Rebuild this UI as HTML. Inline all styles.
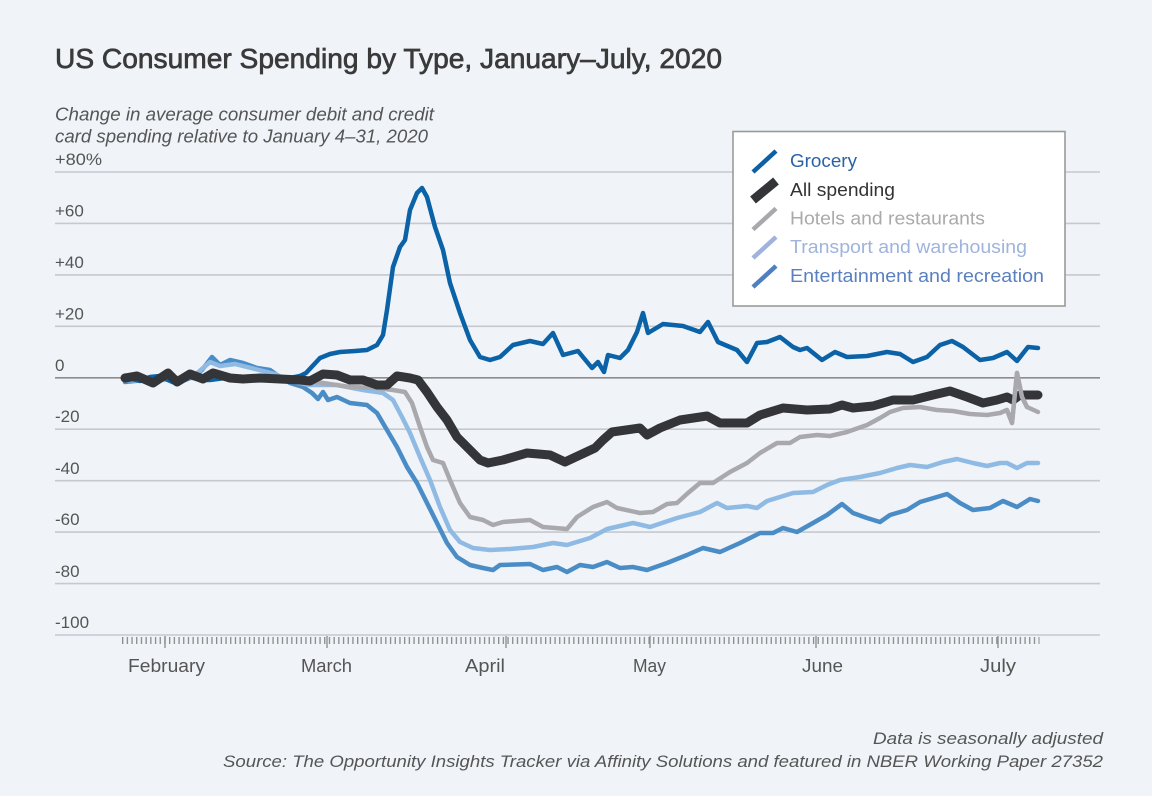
<!DOCTYPE html>
<html><head><meta charset="utf-8"><style>
html,body{margin:0;padding:0;background:#f0f4f8;}
svg{display:block;font-family:"Liberation Sans",sans-serif;}
</style></head><body>
<svg width="1152" height="796" viewBox="0 0 1152 796" xmlns="http://www.w3.org/2000/svg">
<defs>
<pattern id="tk" x="122" y="0" width="4.7" height="10" patternUnits="userSpaceOnUse"><rect x="0" y="0" width="1.3" height="10" fill="#8a8a8a"/></pattern>
</defs>
<rect width="1152" height="796" fill="#f0f4f8"/>
<text x="55" y="68" font-size="28" fill="#3a3a3a" stroke="#3a3a3a" stroke-width="0.7" textLength="667" lengthAdjust="spacingAndGlyphs">US Consumer Spending by Type, January–July, 2020</text>
<g font-style="italic" font-size="18" fill="#555">
<text x="55" y="120.5" textLength="379" lengthAdjust="spacingAndGlyphs">Change in average consumer debit and credit</text>
<text x="55" y="142.5" textLength="373" lengthAdjust="spacingAndGlyphs">card spending relative to January 4–31, 2020</text>
</g>
<g stroke="#c6cacf" stroke-width="1.6">
<line x1="55" y1="172" x2="1100" y2="172"/>
<line x1="55" y1="223.4" x2="1100" y2="223.4"/>
<line x1="55" y1="274.9" x2="1100" y2="274.9"/>
<line x1="55" y1="326.3" x2="1100" y2="326.3"/>
<line x1="55" y1="429.2" x2="1100" y2="429.2"/>
<line x1="55" y1="480.7" x2="1100" y2="480.7"/>
<line x1="55" y1="532.1" x2="1100" y2="532.1"/>
<line x1="55" y1="583.6" x2="1100" y2="583.6"/>
<line x1="55" y1="635" x2="1100" y2="635"/>
</g>
<line x1="55" y1="377.8" x2="1100" y2="377.8" stroke="#8c8c8c" stroke-width="1.6"/>
<g font-size="17" fill="#555">
<text x="55" y="165" textLength="47" lengthAdjust="spacingAndGlyphs">+80%</text>
<text x="55" y="216.5">+60</text>
<text x="55" y="268">+40</text>
<text x="55" y="319.5">+20</text>
<text x="55" y="371">0</text>
<text x="55" y="422">-20</text>
<text x="55" y="474">-40</text>
<text x="55" y="525">-60</text>
<text x="55" y="577">-80</text>
<text x="55" y="628">-100</text>
</g>
<rect x="121.5" y="637" width="918" height="7" fill="url(#tk)"/>
<g stroke="#8a8a8a" stroke-width="1.3">
<line x1="165" y1="636" x2="165" y2="648"/>
<line x1="327" y1="636" x2="327" y2="648"/>
<line x1="506" y1="636" x2="506" y2="648"/>
<line x1="650" y1="636" x2="650" y2="648"/>
<line x1="816" y1="636" x2="816" y2="648"/>
<line x1="998" y1="636" x2="998" y2="648"/>
</g>
<g font-size="18" fill="#555">
<text x="128" y="672" textLength="77" lengthAdjust="spacingAndGlyphs">February</text>
<text x="301" y="672" textLength="51" lengthAdjust="spacingAndGlyphs">March</text>
<text x="465" y="672" textLength="40" lengthAdjust="spacingAndGlyphs">April</text>
<text x="633" y="672" textLength="33" lengthAdjust="spacingAndGlyphs">May</text>
<text x="802" y="672" textLength="41" lengthAdjust="spacingAndGlyphs">June</text>
<text x="980" y="672" textLength="36" lengthAdjust="spacingAndGlyphs">July</text>
</g>
<g fill="none" stroke-linejoin="round" stroke-linecap="round">
<polyline stroke="#4a8cc6" stroke-width="4.5" points="125,382 145,380 170,377 177,383 193,377 202,370 212,357 220,365 230,360 243,363 257,368 270,370 277,375 290,383 303,387 312,393 318,399 323,392 328,400 337,397 350,403 367,405 377,413 387,430 397,447 407,467 417,483 427,503 437,523 447,543 457,557 470,565 483,568 493,570 500,565 530,564 543,570 557,567 567,572 580,565 593,567 607,562 620,568 633,567 647,570 667,563 687,555 703,548 720,552 740,543 760,533 773,533 783,528 797,532 813,523 827,515 842,504 853,513 867,518 880,522 890,515 907,510 920,502 937,497 947,494 960,503 973,510 990,508 1003,501 1017,507 1030,499 1038,501"/>
<polyline stroke="#8fbae3" stroke-width="4.5" points="125,380 150,381 175,379 195,375 210,362 220,366 235,364 255,369 275,374 290,381 310,385 337,385 363,390 383,393 393,400 402,417 410,433 420,457 430,480 440,507 450,530 460,542 473,548 490,550 510,549 533,547 553,543 567,545 590,538 607,529 633,523 650,527 677,518 700,512 717,503 727,508 747,506 757,508 767,501 780,497 793,493 813,492 827,485 840,480 860,477 880,473 897,468 910,465 927,467 943,462 957,459 973,463 987,466 1000,463 1007,463 1017,468 1027,463 1038,463"/>
<polyline stroke="#a9a9ad" stroke-width="4.5" points="125,379 150,381 175,378 200,378 230,378 260,379 290,380 310,381 323,383 350,387 377,388 393,390 405,392 412,403 420,427 427,447 433,460 443,463 450,480 460,503 470,517 483,520 493,525 503,522 530,520 543,527 567,529 577,517 593,507 607,502 617,508 640,513 653,512 667,504 677,503 688,493 700,483 713,483 730,472 747,463 760,453 777,443 790,443 800,437 817,435 830,436 847,432 867,425 880,418 890,412 903,408 920,407 937,410 953,411 970,414 987,415 1000,413 1007,410 1012,423 1017,373 1022,397 1027,407 1038,412"/>
<polyline stroke="#0b62a6" stroke-width="4.5" points="125,377 132,379 140,381 150,377 160,376 168,380 175,383 183,378 190,377 200,380 210,380 225,378 240,377 255,379 270,380 285,379 300,376 306,373 320,358 330,354 340,352 355,351 367,350 377,345 383,335 387,310 393,267 400,247 405,240 410,210 417,193 422,188 427,197 435,227 443,250 450,283 460,313 470,340 480,357 490,360 500,357 513,345 530,341 543,344 553,333 563,355 578,351 592,368 598,362 604,372 608,355 620,358 628,350 637,332 643,313 648,333 663,324 683,326 700,332 708,322 718,342 737,350 747,362 757,343 767,342 780,337 793,347 800,350 807,348 822,360 835,352 847,357 867,356 887,352 900,354 913,362 927,357 940,345 952,341 963,347 980,360 993,358 1007,352 1017,361 1028,347 1038,348"/>
<polyline stroke="#343538" stroke-width="9" points="125,378 137,376 153,383 168,373 177,382 190,374 203,379 213,373 230,378 243,379 260,378 280,379 300,380 310,381 323,374 337,375 350,380 363,380 377,385 387,385 397,376 410,378 418,380 427,392 437,407 447,420 457,437 470,450 480,460 488,463 503,460 527,453 550,455 565,462 580,455 595,448 603,440 612,432 640,428 647,435 660,428 680,420 707,416 720,423 747,423 760,415 783,408 807,410 830,409 842,405 853,408 873,406 893,400 913,400 933,395 950,391 967,397 983,403 997,400 1007,397 1013,400 1020,395 1038,395"/>
<polyline stroke="#a9a9ad" stroke-width="4.5" points="1007,410 1012,423 1017,373 1022,397 1027,407"/>
</g>
<rect x="733" y="131.5" width="332" height="174.5" fill="#ffffff" stroke="#9a9a9a" stroke-width="1.6"/>
<g stroke-linecap="butt">
<line x1="753" y1="172" x2="776" y2="151" stroke="#0d60a4" stroke-width="4.5"/>
<line x1="753" y1="200" x2="776" y2="181" stroke="#343538" stroke-width="9"/>
<line x1="753" y1="229.5" x2="776" y2="208.5" stroke="#a9a9ad" stroke-width="4.5"/>
<line x1="753" y1="258" x2="776" y2="237" stroke="#9fb3dc" stroke-width="4.5"/>
<line x1="753" y1="287" x2="776" y2="266" stroke="#4f7fc0" stroke-width="4.5"/>
</g>
<g font-size="18.5">
<text x="790" y="167" fill="#2a63a3" textLength="67" lengthAdjust="spacingAndGlyphs">Grocery</text>
<text x="790" y="196" fill="#333" textLength="105" lengthAdjust="spacingAndGlyphs">All spending</text>
<text x="790" y="224.5" fill="#aaaaaa" textLength="195" lengthAdjust="spacingAndGlyphs">Hotels and restaurants</text>
<text x="790" y="253" fill="#9fb3dc" textLength="237" lengthAdjust="spacingAndGlyphs">Transport and warehousing</text>
<text x="790" y="282" fill="#5a80bf" textLength="254" lengthAdjust="spacingAndGlyphs">Entertainment and recreation</text>
</g>
<g font-style="italic" font-size="17" fill="#555" text-anchor="end">
<text x="1103" y="744" textLength="230" lengthAdjust="spacingAndGlyphs">Data is seasonally adjusted</text>
<text x="1103" y="767" textLength="880" lengthAdjust="spacingAndGlyphs">Source: The Opportunity Insights Tracker via Affinity Solutions and featured in NBER Working Paper 27352</text>
</g>
</svg>
</body></html>
